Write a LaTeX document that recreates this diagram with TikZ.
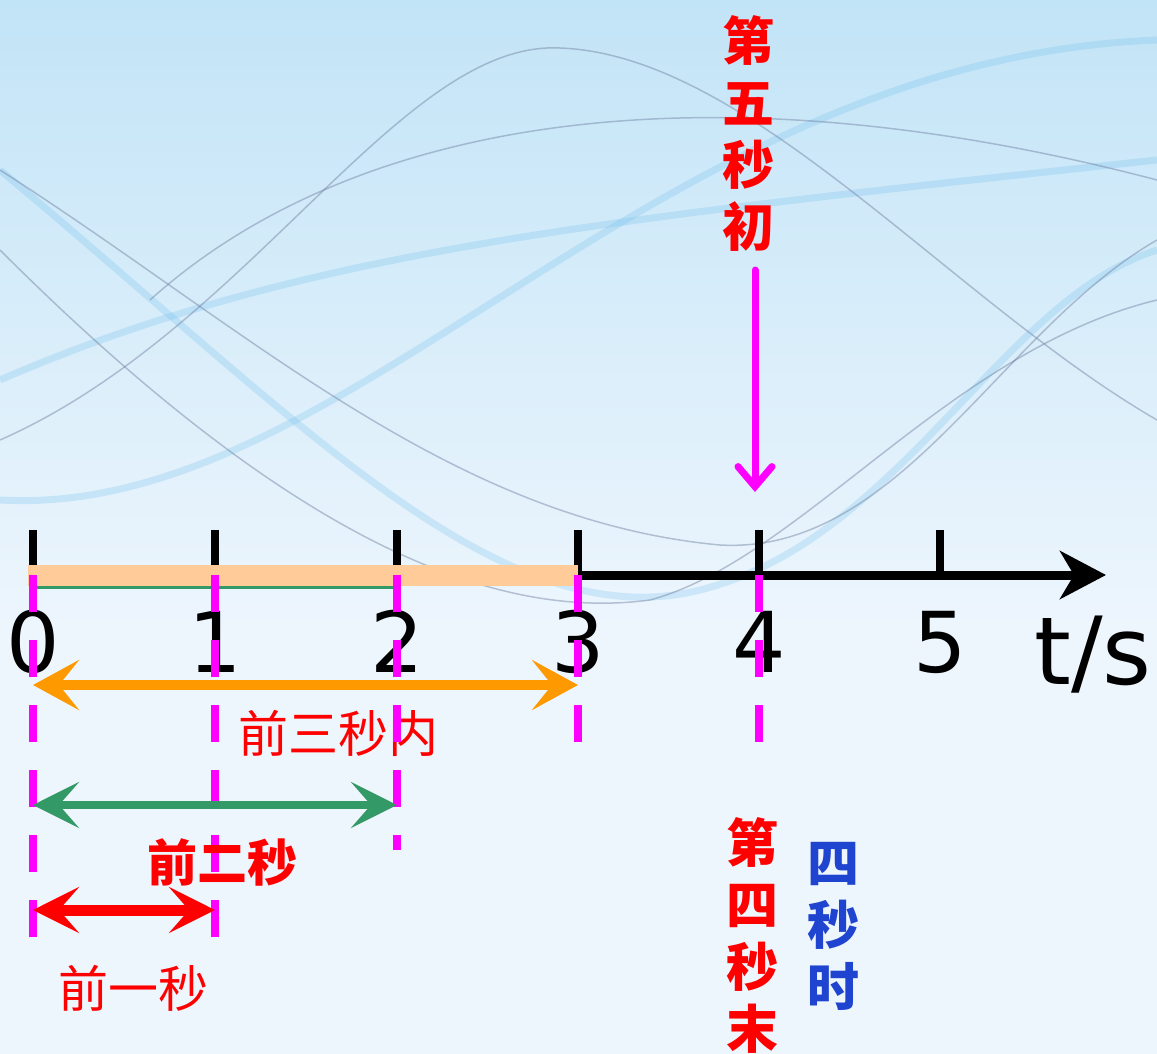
\documentclass[tikz,border=0pt]{standalone}
\usepackage{fontspec}
\setmainfont{DejaVu Sans}
\newfontfamily\cjk{Noto Sans CJK SC}
\usetikzlibrary{arrows.meta}
\definecolor{mag}{HTML}{FF00FF}
\definecolor{orng}{HTML}{FF9900}
\definecolor{peach}{HTML}{FFCC99}
\definecolor{grn}{HTML}{339966}
\definecolor{blu}{HTML}{1F44D0}
\definecolor{bgtop}{HTML}{C2E4F7}
\definecolor{bgbot}{HTML}{EEF6FD}
\definecolor{wavegray}{HTML}{6F7FA0}
\definecolor{waveblue}{HTML}{6CBDEB}
\tikzset{
  tick/.style={line width=8pt, black},
  guide/.style={line width=8pt, mag, dash pattern=on 37pt off 28pt},
  span/.style={line width=10pt},
  digit/.style={font=\fontsize{84}{84}\selectfont, anchor=base, inner sep=0pt},
  cjkthin/.style={font=\cjk\fontsize{50}{50}\selectfont, red, inner sep=0pt},
  cjkbold/.style={font=\cjk\bfseries\fontsize{50}{50}\selectfont, red, inner sep=0pt},
  vlabel/.style={font=\cjk\bfseries\fontsize{52}{62}\selectfont, align=center, inner sep=0pt},
  wg/.style={wavegray, line width=1.5pt, opacity=0.45},
  wb/.style={waveblue, line width=7pt, opacity=0.25},
}
\begin{document}
\begin{tikzpicture}[x=1pt,y=-1pt]
\useasboundingbox (0,0) rectangle (1157,1054);
% background
\fill[bgbot] (0,0) rectangle (1157,1054);
\shade[top color=bgtop, bottom color=bgbot] (0,0) rectangle (1157,640);
% decorative waves
\draw[wb] (0,500) .. controls (350,520) and (650,60) .. (1157,40);
\draw[wb] (0,170) .. controls (300,420) and (500,640) .. (700,590) .. controls (900,540) and (1000,300) .. (1157,250);
\draw[wb] (0,380) .. controls (300,250) and (600,220) .. (1157,160);
\draw[wg] (0,440) .. controls (250,330) and (400,40) .. (560,48) .. controls (750,55) and (950,300) .. (1157,420);
\draw[wg] (0,170) .. controls (250,330) and (450,520) .. (720,545) .. controls (900,555) and (1000,330) .. (1157,240);
\draw[wg] (0,250) .. controls (300,550) and (500,620) .. (650,600) .. controls (800,560) and (950,350) .. (1157,300);
\draw[wg] (150,300) .. controls (350,120) and (700,60) .. (1157,180);
% axis coordinates
\coordinate (t0) at (33,575);
\coordinate (t1) at (215,575);
\coordinate (t2) at (397,575);
\coordinate (t3) at (578,575);
\coordinate (t4) at (759,575);
\coordinate (t5) at (940,575);
\coordinate (tend) at (1106,575);
% ticks
\foreach \n in {t0,t1,t2,t3,t4,t5} \draw[tick] (\n) -- ++(0,-45);
% axis
\draw[line width=9pt, -{Stealth[length=46pt,width=48pt,inset=14pt]}] (t3) -- (tend);
% highlighted first three seconds
\coordinate (b0) at (28,575);
\coordinate (g0) at (33,587);
\coordinate (g2) at (397,587);
\draw[grn, line width=3pt] (g0) -- (g2);
\draw[peach, line width=21pt] (b0) -- (t3);
% digits
\node[digit] (n0) at (33,672) {0};
\node[digit] (n1) at (215,672) {1};
\node[digit] (n2) at (397,672) {2};
\node[digit] (n3) at (578,672) {3};
\node[digit] (n4) at (759,672) {4};
\node[digit] (n5) at (940,672) {5};
\node[digit, anchor=base west, font=\fontsize{94}{94}\selectfont] (unit) at (1034,684) {t/s};
% spans
\coordinate (o0) at (33,685);
\coordinate (o3) at (578,685);
\draw[orng, span, {Stealth[length=46pt,width=50pt,inset=20pt]}-{Stealth[length=46pt,width=50pt,inset=20pt]}] (o0) -- (o3);
\node[cjkthin] (l3) at (338,733) {前三秒内};
% guides
\coordinate (d0) at (33,941);
\coordinate (d1) at (215,941);
\coordinate (d2) at (397,850);
\coordinate (d3) at (578,745);
\coordinate (d4) at (759,745);
\draw[guide] (t0) -- (d0);
\draw[guide] (t1) -- (d1);
\draw[guide] (t2) -- (d2);
\draw[guide] (t3) -- (d3);
\draw[guide] (t4) -- (d4);
% two seconds
\coordinate (s0) at (33,805);
\coordinate (s2) at (397,805);
\draw[grn, line width=8pt, {Stealth[length=46pt,width=46pt,inset=20pt]}-{Stealth[length=46pt,width=46pt,inset=20pt]}] (s0) -- (s2);
\node[cjkbold] (l2) at (222,862) {前二秒};
% one second
\coordinate (r0) at (33,910);
\coordinate (r1) at (215,910);
\draw[red, line width=11pt, {Stealth[length=46pt,width=46pt,inset=20pt]}-{Stealth[length=46pt,width=46pt,inset=20pt]}] (r0) -- (r1);
\node[cjkthin] (l1) at (133,988) {前一秒};
% fifth second start
\node[vlabel, red] (l5) at (748,133) {第\\五\\秒\\初};
\coordinate (m0) at (755,270);
\coordinate (m1) at (755,492);
\draw[mag, line width=7pt, line cap=round, -{Straight Barb[length=20pt,width=34pt,line cap=round]}] (m0) -- (m1);
% fourth second
\node[vlabel, red] (l4e) at (752,935) {第\\四\\秒\\末};
\node[vlabel, blu] (l4t) at (833,926) {四\\秒\\时};
\end{tikzpicture}
\end{document}
